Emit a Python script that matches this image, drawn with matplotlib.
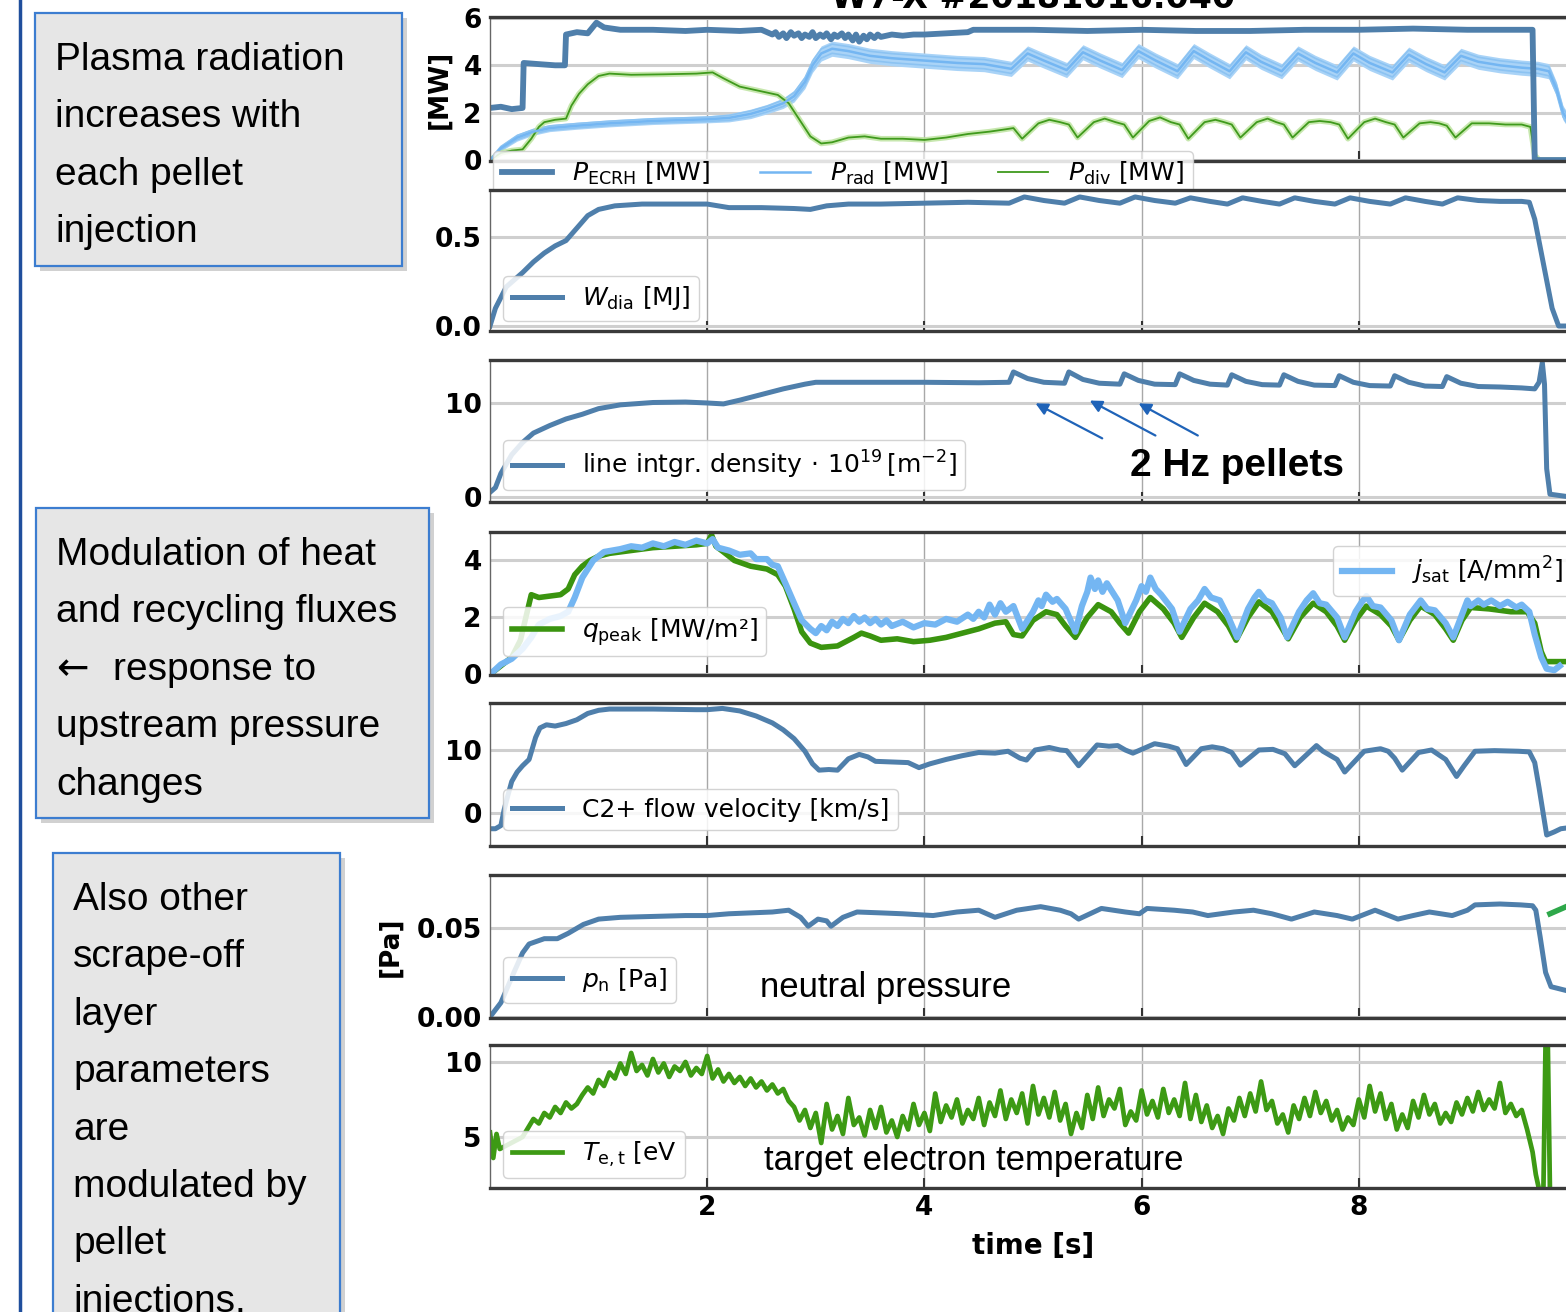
import numpy as np
import matplotlib
matplotlib.use('Agg')
import matplotlib.pyplot as plt
from matplotlib.patches import Rectangle

plt.rcParams['font.family'] = 'DejaVu Sans'
plt.rcParams['mathtext.fontset'] = 'dejavusans'

W, H = 1566, 1312

# ---------------- data: (time [s], value) ----------------
ecrh = [(0.0, 2.2), (0.1, 2.25), (0.2, 2.15), (0.3, 2.2), (0.31, 4.1), (0.45, 4.05), (0.6, 4.0), (0.69, 4.0),
        (0.70, 5.3), (0.8, 5.4), (0.9, 5.35), (0.98, 5.8), (1.05, 5.6), (1.2, 5.5), (1.5, 5.5), (1.8, 5.45),
        (2.0, 5.5), (2.3, 5.45), (2.5, 5.5), (2.6, 5.3), (2.63, 5.4), (2.66, 5.2), (2.7, 5.35), (2.73, 5.15),
        (2.77, 5.4), (2.8, 5.25), (2.84, 5.35), (2.87, 5.15), (2.9, 5.3), (2.94, 5.2), (2.97, 5.4), (3.0, 5.15),
        (3.04, 5.3), (3.07, 5.2), (3.1, 5.35), (3.14, 5.1), (3.17, 5.3), (3.2, 5.2), (3.24, 5.35), (3.27, 5.15),
        (3.3, 5.3), (3.34, 5.05), (3.37, 5.3), (3.4, 5.0), (3.44, 5.25), (3.47, 5.1), (3.5, 5.3), (3.54, 5.15),
        (3.57, 5.3), (3.6, 5.2), (3.7, 5.3), (3.8, 5.25), (3.9, 5.3), (4.0, 5.3), (4.2, 5.35),
        (4.4, 5.4), (4.45, 5.5), (5.0, 5.5), (5.5, 5.45), (6.0, 5.5), (6.5, 5.45), (7.0, 5.45), (7.5, 5.5),
        (8.0, 5.5), (8.5, 5.55), (9.0, 5.5), (9.3, 5.5), (9.6, 5.5), (9.62, 0.0), (9.95, 0.0)]

# (time, centre, half width of the band)
prad = [(0.0, 0.0, 0.05), (0.1, 0.5, 0.12), (0.25, 0.95, 0.15), (0.4, 1.2, 0.15), (0.55, 1.35, 0.15),
        (0.8, 1.45, 0.15), (1.1, 1.55, 0.15), (1.5, 1.65, 0.15), (2.0, 1.72, 0.15), (2.2, 1.78, 0.17),
        (2.4, 1.95, 0.2), (2.55, 2.15, 0.2), (2.7, 2.4, 0.22), (2.8, 2.7, 0.25), (2.9, 3.3, 0.28),
        (2.97, 4.0, 0.3), (3.05, 4.5, 0.32), (3.15, 4.7, 0.32), (3.3, 4.6, 0.32), (3.5, 4.4, 0.32),
        (3.7, 4.3, 0.32), (4.0, 4.2, 0.32), (4.3, 4.1, 0.32), (4.55, 4.05, 0.32),
        (4.8, 3.85, 0.32), (4.95, 4.5, 0.32), (5.1, 4.2, 0.32), (5.31, 3.8, 0.32),
        (5.46, 4.55, 0.32), (5.62, 4.2, 0.32), (5.82, 3.8, 0.32),
        (5.97, 4.6, 0.32), (6.13, 4.2, 0.32), (6.33, 3.75, 0.32),
        (6.48, 4.6, 0.32), (6.63, 4.2, 0.32), (6.81, 3.75, 0.32),
        (6.96, 4.55, 0.32), (7.1, 4.15, 0.32), (7.29, 3.75, 0.32),
        (7.44, 4.5, 0.32), (7.6, 4.1, 0.32), (7.8, 3.7, 0.32),
        (7.95, 4.5, 0.32), (8.1, 4.1, 0.32), (8.31, 3.7, 0.32),
        (8.46, 4.45, 0.32), (8.62, 4.05, 0.32), (8.79, 3.7, 0.32),
        (8.94, 4.4, 0.32), (9.1, 4.15, 0.32), (9.3, 4.0, 0.32), (9.5, 3.9, 0.32), (9.65, 3.85, 0.32),
        (9.75, 3.75, 0.32), (9.82, 3.0, 0.3), (9.88, 2.0, 0.3), (9.95, 1.5, 0.3)]

pdiv = [(0.0, 0.0), (0.1, 0.3), (0.2, 0.4), (0.3, 0.45), (0.38, 0.9), (0.45, 1.4), (0.5, 1.6), (0.6, 1.7),
        (0.7, 1.75), (0.75, 2.3), (0.82, 2.8), (0.9, 3.2), (1.0, 3.55), (1.1, 3.65), (1.3, 3.6), (1.6, 3.62),
        (1.9, 3.65), (2.05, 3.7), (2.15, 3.45), (2.3, 3.1), (2.5, 2.9), (2.65, 2.75), (2.75, 2.4), (2.85, 1.7),
        (2.95, 1.0), (3.05, 0.7), (3.15, 0.75), (3.3, 0.95), (3.45, 1.0), (3.6, 0.9), (3.8, 0.9), (4.0, 0.85),
        (4.2, 0.95), (4.4, 1.1), (4.6, 1.2), (4.75, 1.3),
        (4.82, 1.35), (4.9, 0.9), (5.05, 1.55), (5.15, 1.7), (5.25, 1.6),
        (5.33, 1.5), (5.41, 0.95), (5.56, 1.6), (5.66, 1.75), (5.76, 1.6),
        (5.84, 1.5), (5.92, 0.95), (6.07, 1.65), (6.17, 1.8), (6.27, 1.6),
        (6.35, 1.5), (6.43, 0.9), (6.58, 1.6), (6.68, 1.7), (6.76, 1.6),
        (6.83, 1.5), (6.91, 0.95), (7.06, 1.6), (7.16, 1.75), (7.24, 1.6),
        (7.31, 1.5), (7.39, 0.95), (7.54, 1.6), (7.64, 1.65), (7.74, 1.6),
        (7.82, 1.5), (7.9, 0.9), (8.05, 1.6), (8.15, 1.75), (8.25, 1.6),
        (8.33, 1.5), (8.41, 0.95), (8.56, 1.55), (8.66, 1.6), (8.74, 1.55),
        (8.81, 1.45), (8.89, 0.95), (9.04, 1.55), (9.2, 1.55), (9.35, 1.5), (9.5, 1.5), (9.58, 1.4),
        (9.62, 0.2), (9.66, 0.0), (9.95, 0.0)]

wdia = [(0.0, 0.0), (0.05, 0.1), (0.15, 0.22), (0.3, 0.3), (0.4, 0.36), (0.5, 0.41), (0.6, 0.45), (0.7, 0.48),
        (0.8, 0.55), (0.9, 0.62), (1.0, 0.655), (1.15, 0.675), (1.4, 0.685), (1.8, 0.685), (2.0, 0.685),
        (2.2, 0.665), (2.5, 0.665), (2.8, 0.66), (2.95, 0.655), (3.1, 0.675), (3.3, 0.685), (3.6, 0.685),
        (4.0, 0.69), (4.4, 0.695), (4.78, 0.69),
        (4.92, 0.725), (5.1, 0.705), (5.29, 0.69), (5.43, 0.725), (5.61, 0.705), (5.8, 0.69),
        (5.94, 0.725), (6.12, 0.705), (6.31, 0.69), (6.45, 0.72), (6.63, 0.7), (6.79, 0.685),
        (6.93, 0.72), (7.11, 0.7), (7.27, 0.685), (7.41, 0.72), (7.59, 0.7), (7.78, 0.685),
        (7.92, 0.72), (8.1, 0.7), (8.29, 0.685), (8.43, 0.72), (8.61, 0.7), (8.77, 0.685),
        (8.91, 0.72), (9.1, 0.705), (9.3, 0.7), (9.5, 0.7), (9.57, 0.695), (9.62, 0.6), (9.7, 0.35),
        (9.78, 0.1), (9.84, 0.0), (9.95, 0.0)]

dens = [(0.0, 0.5), (0.05, 1.0), (0.1, 2.5), (0.2, 4.5), (0.3, 5.8), (0.4, 6.8), (0.55, 7.6), (0.7, 8.3),
        (0.85, 8.8), (1.0, 9.4), (1.2, 9.8), (1.5, 10.05), (1.8, 10.1), (2.0, 10.0), (2.15, 9.9), (2.3, 10.3),
        (2.5, 10.9), (2.7, 11.5), (2.9, 12.0), (3.0, 12.2), (3.5, 12.2), (4.0, 12.2), (4.5, 12.15), (4.78, 12.2),
        (4.82, 13.3), (4.95, 12.6), (5.1, 12.2), (5.29, 12.1), (5.33, 13.3), (5.46, 12.5), (5.61, 12.1),
        (5.8, 12.0), (5.84, 13.1), (5.97, 12.4), (6.12, 12.0), (6.31, 11.95), (6.35, 13.1), (6.48, 12.4),
        (6.63, 12.0), (6.79, 11.9), (6.83, 13.0), (6.96, 12.3), (7.11, 11.95), (7.27, 11.9), (7.31, 13.0),
        (7.44, 12.3), (7.59, 11.9), (7.78, 11.85), (7.82, 12.9), (7.95, 12.2), (8.1, 11.85), (8.29, 11.8),
        (8.33, 12.9), (8.46, 12.2), (8.61, 11.8), (8.77, 11.75), (8.81, 12.8), (8.94, 12.1), (9.1, 11.75),
        (9.3, 11.7), (9.5, 11.6), (9.62, 11.5), (9.66, 12.2), (9.69, 14.3), (9.71, 12.0), (9.73, 3.0),
        (9.76, 0.3), (9.95, 0.0)]

qpeak = [(0.0, 0.0), (0.1, 0.3), (0.2, 0.6), (0.28, 1.2), (0.33, 2.0), (0.38, 2.8), (0.45, 2.7), (0.55, 2.75),
         (0.65, 2.8), (0.72, 3.0), (0.78, 3.5), (0.85, 3.8), (0.92, 4.0), (1.0, 4.15), (1.1, 4.25), (1.3, 4.35),
         (1.5, 4.45), (1.7, 4.5), (1.9, 4.55), (2.0, 4.6), (2.04, 4.9), (2.08, 4.5), (2.15, 4.3), (2.25, 4.0),
         (2.4, 3.8), (2.55, 3.7), (2.65, 3.5), (2.72, 3.1), (2.8, 2.3), (2.87, 1.5), (2.95, 1.1), (3.05, 0.95),
         (3.2, 1.0), (3.35, 1.3), (3.42, 1.45), (3.5, 1.35), (3.6, 1.2), (3.75, 1.25), (3.9, 1.15), (4.05, 1.2),
         (4.2, 1.3), (4.35, 1.45), (4.5, 1.6), (4.65, 1.8), (4.75, 1.85), (4.82, 1.4), (4.9, 1.35),
         (5.0, 1.9), (5.12, 2.2), (5.22, 2.1), (5.3, 1.7), (5.39, 1.3), (5.5, 2.0), (5.6, 2.45), (5.72, 2.2),
         (5.8, 1.8), (5.88, 1.45), (5.98, 2.2), (6.08, 2.7), (6.2, 2.3), (6.3, 1.8), (6.37, 1.3), (6.48, 2.0),
         (6.58, 2.5), (6.7, 2.2), (6.8, 1.7), (6.87, 1.2), (6.98, 2.0), (7.08, 2.55), (7.2, 2.2), (7.28, 1.7),
         (7.35, 1.25), (7.46, 2.0), (7.58, 2.5), (7.7, 2.2), (7.8, 1.7), (7.87, 1.2), (7.97, 1.9), (8.07, 2.4),
         (8.2, 2.1), (8.3, 1.7), (8.37, 1.2), (8.47, 1.9), (8.57, 2.4), (8.7, 2.1), (8.8, 1.6), (8.87, 1.2),
         (8.95, 1.9), (9.03, 2.35), (9.2, 2.3), (9.4, 2.2), (9.55, 2.2), (9.62, 1.8), (9.68, 0.8), (9.72, 0.45),
         (9.95, 0.45)]

jsat = [(0.0, 0.0), (0.1, 0.35), (0.2, 0.55), (0.3, 0.9), (0.38, 1.3), (0.45, 1.75), (0.55, 1.95), (0.65, 2.05),
        (0.72, 2.2), (0.78, 2.7), (0.85, 3.4), (0.95, 4.0), (1.05, 4.3), (1.2, 4.4), (1.3, 4.5), (1.4, 4.45),
        (1.5, 4.6), (1.6, 4.5), (1.7, 4.65), (1.8, 4.55), (1.9, 4.7), (2.0, 4.6), (2.05, 4.75), (2.1, 4.45),
        (2.2, 4.35), (2.3, 4.2), (2.4, 4.25), (2.45, 4.05), (2.55, 4.05), (2.6, 3.85), (2.65, 3.8), (2.72, 3.2),
        (2.8, 2.5), (2.87, 1.9), (2.95, 1.6), (3.0, 1.45), (3.05, 1.7), (3.1, 1.55), (3.15, 1.85), (3.2, 1.7),
        (3.25, 1.95), (3.3, 1.8), (3.35, 2.05), (3.4, 1.85), (3.45, 2.0), (3.5, 1.8), (3.55, 1.95), (3.6, 1.75),
        (3.65, 1.9), (3.7, 1.7), (3.8, 1.85), (3.9, 1.65), (4.0, 1.8), (4.1, 1.75), (4.2, 1.95), (4.3, 1.85),
        (4.4, 2.1), (4.45, 1.95), (4.5, 2.2), (4.55, 2.0), (4.6, 2.45), (4.65, 2.1), (4.7, 2.5), (4.75, 2.2),
        (4.82, 2.4), (4.9, 1.6), (5.0, 2.2), (5.05, 2.6), (5.08, 2.4), (5.12, 2.8), (5.18, 2.55), (5.22, 2.65),
        (5.3, 2.3), (5.39, 1.5), (5.45, 2.4), (5.5, 2.9), (5.53, 3.4), (5.57, 3.0), (5.6, 3.3), (5.64, 2.9),
        (5.68, 3.2), (5.78, 2.6), (5.85, 1.8), (5.95, 2.6), (6.0, 3.1), (6.04, 2.9), (6.08, 3.4), (6.13, 3.0),
        (6.18, 2.8), (6.28, 2.3), (6.35, 1.5), (6.45, 2.3), (6.52, 2.6), (6.58, 3.0), (6.64, 2.7), (6.72, 2.6),
        (6.8, 2.0), (6.88, 1.3), (6.98, 2.3), (7.04, 2.7), (7.08, 2.9), (7.14, 2.6), (7.2, 2.5), (7.28, 2.0),
        (7.34, 1.3), (7.45, 2.2), (7.52, 2.6), (7.58, 2.85), (7.64, 2.5), (7.7, 2.45), (7.8, 2.0), (7.87, 1.3),
        (7.97, 2.2), (8.02, 2.5), (8.07, 2.75), (8.13, 2.4), (8.2, 2.35), (8.3, 1.9), (8.37, 1.2), (8.47, 2.1),
        (8.57, 2.6), (8.63, 2.3), (8.7, 2.25), (8.8, 1.8), (8.87, 1.3), (8.95, 2.1), (9.0, 2.6), (9.03, 2.4),
        (9.1, 2.6), (9.15, 2.45), (9.22, 2.6), (9.3, 2.4), (9.37, 2.55), (9.45, 2.35), (9.5, 2.45), (9.57, 2.2),
        (9.62, 1.4), (9.68, 0.6), (9.73, 0.2), (9.8, 0.15), (9.85, 0.3)]

c2flow = [(0.0, -2.5), (0.05, -2.5), (0.1, -2.0), (0.13, 0.5), (0.16, 2.5), (0.2, 5.0), (0.25, 6.5), (0.3, 7.5),
          (0.36, 8.5), (0.42, 12.0), (0.46, 13.5), (0.52, 14.0), (0.6, 13.8), (0.7, 14.2), (0.8, 14.8),
          (0.9, 15.8), (1.0, 16.3), (1.1, 16.5), (1.5, 16.5), (1.9, 16.4), (2.0, 16.4), (2.14, 16.6),
          (2.3, 16.2), (2.45, 15.4), (2.6, 14.3), (2.7, 13.2), (2.8, 11.8), (2.9, 9.8), (2.97, 7.8), (3.03, 6.8),
          (3.12, 6.9), (3.2, 6.8), (3.3, 8.6), (3.4, 9.3), (3.48, 8.9), (3.55, 8.2), (3.7, 8.1), (3.85, 8.0),
          (3.95, 7.2), (4.05, 7.8), (4.2, 8.5), (4.35, 9.1), (4.5, 9.6), (4.65, 9.5), (4.77, 9.8), (4.88, 8.7),
          (4.94, 8.4), (5.02, 10.0), (5.15, 10.4), (5.25, 10.0), (5.31, 9.9), (5.42, 7.5), (5.59, 10.8),
          (5.7, 10.6), (5.78, 10.7), (5.85, 10.0), (5.92, 9.5), (6.12, 11.0), (6.25, 10.6), (6.33, 10.2),
          (6.41, 7.7), (6.55, 10.2), (6.65, 10.5), (6.75, 10.2), (6.83, 9.6), (6.91, 7.6), (7.08, 10.0),
          (7.21, 10.1), (7.32, 9.4), (7.41, 7.5), (7.61, 10.7), (7.67, 9.8), (7.8, 8.5), (7.87, 6.5),
          (8.05, 9.8), (8.2, 10.2), (8.27, 9.8), (8.33, 8.7), (8.4, 6.8), (8.55, 9.6), (8.67, 10.0),
          (8.8, 8.5), (8.9, 5.8), (8.97, 7.5), (9.07, 9.8), (9.25, 9.9), (9.47, 9.8), (9.57, 9.7), (9.62, 8.0),
          (9.66, 4.0), (9.73, -3.5), (9.8, -3.0), (9.86, -2.5), (9.95, -2.3)]

pn = [(0.0, 0.0), (0.1, 0.008), (0.22, 0.025), (0.3, 0.036), (0.36, 0.041), (0.5, 0.044), (0.62, 0.044),
      (0.72, 0.047), (0.86, 0.052), (1.0, 0.055), (1.2, 0.056), (1.5, 0.0565), (1.8, 0.057), (2.0, 0.057),
      (2.2, 0.058), (2.4, 0.0585), (2.6, 0.059), (2.75, 0.060), (2.86, 0.056), (2.93, 0.051), (3.02, 0.055),
      (3.1, 0.054), (3.14, 0.051), (3.25, 0.056), (3.38, 0.059), (3.6, 0.0585), (3.8, 0.058), (4.08, 0.057),
      (4.3, 0.059), (4.5, 0.060), (4.65, 0.056), (4.85, 0.060), (5.07, 0.062), (5.25, 0.060), (5.35, 0.058),
      (5.42, 0.055), (5.63, 0.061), (5.85, 0.059), (5.98, 0.058), (6.05, 0.061), (6.3, 0.060), (6.47, 0.059),
      (6.61, 0.057), (6.85, 0.059), (7.03, 0.060), (7.2, 0.058), (7.38, 0.055), (7.59, 0.059), (7.8, 0.057),
      (7.94, 0.055), (8.15, 0.060), (8.36, 0.055), (8.5, 0.057), (8.65, 0.059), (8.86, 0.057), (9.0, 0.060),
      (9.07, 0.063), (9.3, 0.0635), (9.49, 0.063), (9.6, 0.0625), (9.63, 0.060), (9.67, 0.045), (9.72, 0.025),
      (9.77, 0.017), (9.9, 0.015)]
pn_late = [(9.76, 0.058), (9.91, 0.062)]

te_start = [(0.0, 5.3), (0.03, 3.6), (0.06, 5.2), (0.09, 4.2)]
te_t0, te_dt = 0.30, 0.05
te = [5.0, 5.6, 6.2, 5.9, 6.6, 6.3, 7.0, 6.6, 7.3, 6.9, 7.2, 7.8, 8.3, 7.9,
      8.8, 8.4, 9.3, 8.9, 9.9, 9.2, 10.6, 9.4, 9.8, 9.1, 10.2, 9.3, 9.9, 9.0, 9.7, 9.4, 10.0, 9.1, 9.6, 9.2,
      10.4, 8.9, 9.5, 8.7, 9.2, 8.6, 9.0, 8.4, 8.9, 8.3, 8.7, 8.1, 8.5, 7.9, 8.2, 7.4, 7.0, 6.1, 6.8, 5.6,
      6.6, 4.6, 7.2, 5.5, 6.4, 5.2, 7.6, 5.8, 6.3, 5.1, 6.8, 5.6, 7.0, 5.3, 6.1, 5.0, 6.4, 5.5, 7.2, 5.8,
      6.6, 5.4, 7.9, 6.0, 7.1, 6.3, 7.5, 5.9, 6.8, 6.2, 7.6, 5.8, 7.3, 6.4, 8.1, 6.2, 7.5, 6.6, 7.9, 5.9,
      8.4, 6.5, 7.6, 6.3, 8.0, 6.1, 7.2, 5.2, 6.6, 5.6, 7.8, 6.2, 8.3, 6.4, 7.5, 6.9, 8.2, 5.8, 6.7, 6.1,
      8.1, 6.5, 7.4, 6.3, 8.2, 6.6, 7.5, 6.4, 8.6, 6.2, 7.8, 6.0, 7.1, 5.6, 6.4, 5.2, 6.9, 6.1, 7.6, 6.4,
      7.9, 6.7, 8.7, 6.8, 7.4, 5.9, 6.5, 5.3, 7.1, 6.2, 7.6, 6.4, 8.0, 6.6, 7.4, 6.1, 6.8, 5.5, 6.3, 5.8,
      7.5, 6.3, 8.4, 6.7, 7.9, 6.2, 7.2, 5.5, 6.5, 5.6, 7.4, 6.3, 7.8, 6.5, 7.2, 5.9, 6.6, 6.0, 7.3, 6.5,
      7.6, 6.7, 8.0, 6.8, 7.5, 6.9, 8.6, 6.6, 7.2, 6.4, 6.8, 5.5, 4.0]
te_end = [(9.63, 2.5), (9.66, 1.5), (9.70, 1.5), (9.72, 11.5), (9.74, 11.5), (9.76, 1.5), (9.8, 1.5)]

# ---------------- colours ----------------
c_steel = '#4f7fab'
c_light = '#74b6f2'
c_green = '#3d9a14'

narrow = ['Liberation Sans Narrow', 'Liberation Sans', 'DejaVu Sans']

fig = plt.figure(figsize=(W / 100, H / 100), dpi=100)


def fx(x):
    return x / W


def fy(y):
    return 1 - y / H


def panel(top, bot, ylim, yticks, ylabels):
    ax = fig.add_axes([490 / W, 1 - bot / H, 1086 / W, (bot - top) / H])
    ax.set_xlim(0, 10)
    ax.set_ylim(*ylim)
    ax.set_xticks([2, 4, 6, 8])
    ax.set_yticks(yticks)
    ax.set_yticklabels(ylabels, fontsize=19, fontweight='bold')
    ax.tick_params(axis='y', length=0, pad=6)
    ax.tick_params(axis='x', direction='in', length=7, width=1.5, color='#333333',
                   labelbottom=False)
    ax.grid(axis='y', color='#cfcfcf', lw=2.2)
    ax.grid(axis='x', color='#a8a8a8', lw=1.0)
    ax.set_axisbelow(True)
    for s in ['top', 'bottom']:
        ax.spines[s].set_color('#3a3a3a')
        ax.spines[s].set_linewidth(2.4)
    ax.spines['left'].set_color('#666666')
    ax.spines['left'].set_linewidth(1.0)
    ax.spines['right'].set_visible(False)
    return ax


def leg(ax, loc, anchor, ncol=1, handles=None):
    return ax.legend(handles=handles, loc=loc, bbox_to_anchor=anchor, ncol=ncol, fontsize=18,
                     fancybox=True, framealpha=0.85, edgecolor='#cccccc', borderpad=0.35,
                     handlelength=2.0, handletextpad=0.8, columnspacing=2.0, borderaxespad=0)


def arr(pairs):
    a = np.array(pairs, dtype=float)
    return a[:, 0], a[:, 1]


# panel 1: powers
ax1 = panel(17, 161, (-0.04, 6.04), [0, 2, 4, 6], ['0', '2', '4', '6'])
pr = np.array(prad)
ax1.fill_between(pr[:, 0], pr[:, 1] - pr[:, 2], pr[:, 1] + pr[:, 2], color='#a9d3f7', lw=0)
ax1.plot(pr[:, 0], pr[:, 1] - pr[:, 2] * 0.6, color='#8cc3f2', lw=1.2)
ax1.plot(pr[:, 0], pr[:, 1] + pr[:, 2] * 0.6, color='#8cc3f2', lw=1.2)
t, v = arr(pdiv)
ax1.plot(t, v, color='#b9e29a', lw=4, alpha=0.8)
l3, = ax1.plot(t, v, color='#3f9a1c', lw=1.3, label=r'$P_{\mathrm{div}}$ [MW]')
l2, = ax1.plot(pr[:, 0], pr[:, 1], color=c_light, lw=1.8, label=r'$P_{\mathrm{rad}}$ [MW]')
t, v = arr(ecrh)
l1, = ax1.plot(t, v, color=c_steel, lw=4.2, label=r'$P_{\mathrm{ECRH}}$ [MW]')
leg(ax1, 'upper left', (0.003, 0.07), ncol=3, handles=[l1, l2, l3])
ax1.set_ylabel('[MW]', fontsize=19, fontweight='bold')
ax1.yaxis.set_label_coords(-0.035, 0.5)

# panel 2: diamagnetic energy
ax2 = panel(190, 331, (-0.028, 0.764), [0.0, 0.5], ['0.0', '0.5'])
t, v = arr(wdia)
ax2.plot(t, v, color=c_steel, lw=3.6, label=r'$W_{\mathrm{dia}}$ [MJ]')
leg(ax2, 'lower left', (0.012, 0.07))

# panel 3: line integrated density
ax3 = panel(360, 502, (-0.53, 14.57), [0, 10], ['0', '10'])
t, v = arr(dens)
ax3.plot(t, v, color=c_steel, lw=3.6,
         label=r'line intgr. density$\,\cdot\,10^{19}\,[\mathrm{m}^{-2}]$')
leg(ax3, 'lower left', (0.012, 0.085))
for tail, tip in [((5.66, 6.1), (5.0, 10.1)), ((6.15, 6.4), (5.5, 10.4)), ((6.54, 6.4), (5.95, 10.1))]:
    ax3.annotate('', xy=tip, xytext=tail,
                 arrowprops=dict(arrowstyle='-|>', color='#1f63b8', lw=1.6, mutation_scale=18))
ax3.text(5.89, 2.2, '2 Hz pellets', fontsize=28, fontweight='bold', family=narrow, va='baseline')

# panel 4: heat flux and saturation current
ax4 = panel(532, 675, (-0.02, 5.0), [0, 2, 4], ['0', '2', '4'])
t, v = arr(qpeak)
lq, = ax4.plot(t, v, color='#3a940f', lw=4.0, label=r'$q_{\mathrm{peak}}$ [MW/m²]')
t, v = arr(jsat)
lj, = ax4.plot(t, v, color=c_light, lw=4.5, label=r'$j_{\mathrm{sat}}$ [A/mm$^2$]')
lg = leg(ax4, 'lower left', (0.012, 0.13), handles=[lq])
ax4.add_artist(lg)
leg(ax4, 'upper right', (0.996, 0.9), handles=[lj])

# panel 5: C2+ flow velocity
ax5 = panel(703, 846, (-5.24, 17.46), [0, 10], ['0', '10'])
t, v = arr(c2flow)
ax5.plot(t, v, color=c_steel, lw=3.6, label='C2+ flow velocity [km/s]')
leg(ax5, 'lower left', (0.012, 0.11))

# panel 6: neutral pressure
ax6 = panel(875, 1018, (-0.0006, 0.0798), [0.0, 0.05], ['0.00', '0.05'])
t, v = arr(pn)
ax6.plot(t, v, color=c_steel, lw=3.6, label=r'$p_{\mathrm{n}}$ [Pa]')
t, v = arr(pn_late)
ax6.plot(t, v, color='#2ea84a', lw=4)
leg(ax6, 'lower left', (0.012, 0.105))
ax6.set_ylabel('[Pa]', fontsize=19, fontweight='bold')
ax6.yaxis.set_label_coords(-0.080, 0.5)
ax6.text(2.49, 0.0112, 'neutral pressure', fontsize=25, family=narrow, va='baseline')

# panel 7: target electron temperature
ax7 = panel(1045, 1188, (1.6, 11.13), [5, 10], ['5', '10'])
t0, v0 = arr(te_start)
tm = te_t0 + te_dt * np.arange(len(te))
t1, v1 = arr(te_end)
ax7.plot(np.concatenate([t0, tm, t1]), np.concatenate([v0, te, v1]), color=c_green, lw=3.4,
         label=r'$T_{\mathrm{e,t}}$ [eV')
leg(ax7, 'lower left', (0.012, 0.07))
ax7.text(2.52, 2.8, 'target electron temperature', fontsize=25, family=narrow, va='baseline')
ax7.tick_params(axis='x', labelbottom=True, labelsize=19, pad=5)
for lab in ax7.get_xticklabels():
    lab.set_fontweight('bold')
ax7.set_xlabel('time [s]', fontsize=20, fontweight='bold', labelpad=8)

# title, cut by the top edge as in the slide
fig.text(fx(1033), fy(8), 'W7-X #20181016.040', ha='center', va='baseline', fontsize=24,
         fontweight='bold')

# slide decorations
fig.add_artist(plt.Line2D([fx(20), fx(20)], [0, 1], color='#1f4e9c', lw=2.5))


def note(x0, y0, x1, y1, lines, tx, by):
    fig.add_artist(Rectangle((fx(x0 + 5), fy(y1 + 5)), (x1 - x0) / W, (y1 - y0) / H,
                             facecolor='#9a9a9a', edgecolor='none', alpha=0.45))
    fig.add_artist(Rectangle((fx(x0), fy(y1)), (x1 - x0) / W, (y1 - y0) / H,
                             facecolor='#e6e6e6', edgecolor='#3c7dd0', lw=1.6))
    for i, s in enumerate(lines):
        fig.text(fx(tx), fy(by + 57.4 * i), s, fontsize=28, va='baseline',
                 family=['Liberation Sans', 'DejaVu Sans'])


note(35, 13, 402, 266, ['Plasma radiation', 'increases with', 'each pellet', 'injection'], 55, 70)
note(36, 508, 429, 818, ['Modulation of heat', 'and recycling fluxes', '',
                         'upstream pressure', 'changes'], 56, 565)
# arrow glyph drawn in DejaVu Sans, which has a full-size arrow
fig.text(fx(56), fy(565 + 57.4 * 2), '\u2190', fontsize=28, va='baseline', family='DejaVu Sans')
fig.text(fx(113), fy(565 + 57.4 * 2), 'response to', fontsize=28, va='baseline',
         family=['Liberation Sans', 'DejaVu Sans'])
note(53, 853, 340, 1340, ['Also other', 'scrape-off', 'layer', 'parameters', 'are', 'modulated by',
                          'pellet', 'injections.'], 73, 910)

fig.savefig('out.png', dpi=100)
